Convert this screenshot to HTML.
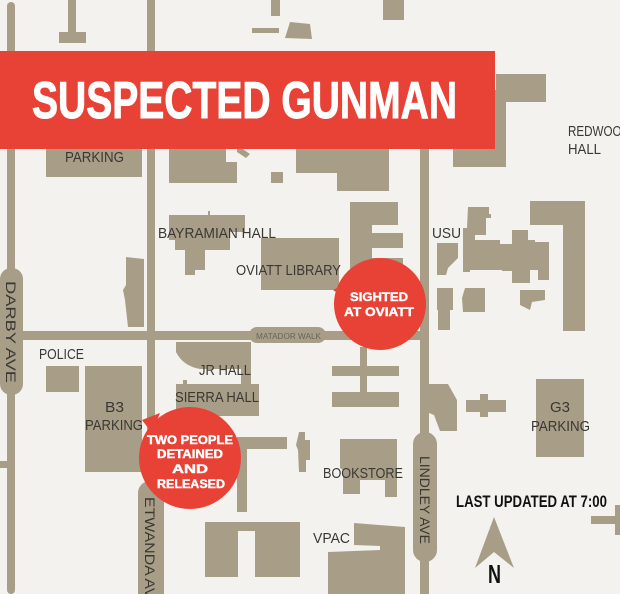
<!DOCTYPE html>
<html><head><meta charset="utf-8"><style>
html,body{margin:0;padding:0;background:#f3f2ee;}
svg{display:block}
text{font-family:"Liberation Sans Narrow","Liberation Sans",sans-serif;}
</style></head><body>
<svg width="620" height="594" viewBox="0 0 620 594" xmlns="http://www.w3.org/2000/svg">
<rect width="620" height="594" fill="#f3f2ee"/>
<g fill="#a89e88">
<rect x="7" y="2" width="8" height="592" rx="4"/>
<rect x="0" y="268" width="23" height="127" rx="11"/>
<rect x="0" y="461" width="8" height="7"/>
<rect x="147" y="0" width="8" height="594"/>
<rect x="138" y="481" width="26" height="130" rx="12"/>
<rect x="420" y="140" width="9" height="454"/>
<rect x="413" y="432" width="24" height="130" rx="12"/>
<rect x="15" y="331" width="406" height="9"/>
<rect x="249" y="327" width="77" height="16" rx="8"/>
<rect x="68" y="0" width="8" height="34"/>
<rect x="59" y="32" width="27" height="11"/>
<rect x="271" y="0" width="9" height="16"/>
<rect x="252" y="28" width="27" height="5"/>
<polygon points="290,22 310,24 312,39 285,38"/>
<rect x="383" y="0" width="21" height="20"/>
<rect x="46" y="140" width="96" height="37"/>
<polygon points="169,140 226,140 226,162 237,162 237,183 169,183"/>
<polygon points="237,145 250,154 246,158 237,152"/>
<rect x="296" y="140" width="93" height="33"/>
<rect x="337" y="140" width="52" height="51"/>
<rect x="271" y="172" width="12" height="11"/>
<rect x="453" y="90" width="53" height="77"/>
<rect x="496" y="74" width="50" height="28"/>
<polygon points="169,215 245,215 245,232 230,232 230,250 205,250 205,270 195,270 195,275 185,275 185,250 175,250 175,240 169,240"/>
<rect x="208" y="211" width="2" height="6"/>
<rect x="261" y="238" width="78" height="52"/>
<rect x="350" y="202" width="48" height="23"/>
<rect x="350" y="202" width="22" height="80"/>
<rect x="372" y="233" width="31" height="15"/>
<rect x="372" y="258" width="31" height="10"/>
<polygon points="126,257 144,259 144,327 128,327 125,300 123,290 126,285"/>
<polygon points="437,243 458,243 458,258 448,268 446,275 437,275"/>
<polygon points="468,207 489,207 489,214 491,214 491,218 486,218 486,235 475,235 475,244 463,244 463,228 467,228"/>
<polygon points="463,240 500,240 500,244 512,244 512,230 528,230 528,240 535,240 535,242 549,242 549,280 538,280 538,270 530,270 530,283 512,283 512,271 502,271 502,270 470,270 470,272 463,272"/>
<rect x="530" y="201" width="55" height="24"/>
<rect x="563" y="201" width="22" height="130"/>
<polygon points="437,288 453,288 453,310 437,310"/>
<polygon points="465,288 485,288 485,312 463,312 462,298"/>
<polygon points="520,290 545,290 545,300 532,302 530,310 520,305"/>
<polygon points="438,300 450,300 450,330 438,330"/>
<rect x="46" y="366" width="33" height="26"/>
<rect x="85" y="366" width="57" height="106"/>
<path d="M176,342 L251,342 L251,394 L241,394 L241,369 L200,369 Q183,366 176,352 Z"/>
<rect x="176" y="384" width="83" height="32"/>
<rect x="183" y="380" width="4" height="6"/>
<rect x="332" y="366" width="67" height="10"/>
<rect x="332" y="392" width="67" height="15"/>
<rect x="360" y="347" width="7" height="47"/>
<polygon points="429,384 448,384 457,400 457,431 440,431 434,415 429,413"/>
<polygon points="466,400 480,400 480,394 488,394 488,400 506,400 506,412 488,412 488,417 480,417 480,412 466,412"/>
<rect x="536" y="379" width="48" height="78"/>
<rect x="237" y="437" width="50" height="12"/>
<rect x="237" y="437" width="10" height="75"/>
<polygon points="299,432 305,432 305,440 310,440 310,460 306,460 306,472 299,472 298,450 296,445"/>
<polygon points="340,439 397,439 397,497 385,497 385,480 360,480 360,494 343,494 343,470 340,468"/>
<rect x="205" y="522" width="95" height="55"/>
<polygon points="354,523 405,527 405,594 328,594 328,552 380,550 380,546 354,545"/>
<rect x="591" y="516" width="29" height="8"/>
<rect x="615" y="505" width="5" height="30"/>
<polygon points="494,517 475,568 494,552 514,568"/>
</g>
<rect x="238" y="531" width="17" height="46" fill="#f3f2ee"/>
<rect x="0" y="51" width="495" height="98" fill="#e84236"/>
<text x="32" y="118" font-size="52" font-weight="bold" fill="#fff" stroke="#fff" stroke-width="1" textLength="425" lengthAdjust="spacingAndGlyphs">SUSPECTED GUNMAN</text>
<g fill="#3a3833" font-size="15">
<text x="65" y="162" textLength="59" lengthAdjust="spacingAndGlyphs">PARKING</text>
<text x="568" y="136" textLength="62" lengthAdjust="spacingAndGlyphs">REDWOOD</text>
<text x="568" y="154" textLength="33" lengthAdjust="spacingAndGlyphs">HALL</text>
<text x="158" y="238" textLength="118" lengthAdjust="spacingAndGlyphs">BAYRAMIAN HALL</text>
<text x="236" y="275" textLength="105" lengthAdjust="spacingAndGlyphs">OVIATT LIBRARY</text>
<text x="432" y="238" textLength="29" lengthAdjust="spacingAndGlyphs">USU</text>
<text x="39" y="359" textLength="45" lengthAdjust="spacingAndGlyphs">POLICE</text>
<text x="199" y="375" textLength="52" lengthAdjust="spacingAndGlyphs">JR HALL</text>
<text x="175" y="402" textLength="84" lengthAdjust="spacingAndGlyphs">SIERRA HALL</text>
<text x="105" y="412" textLength="19" lengthAdjust="spacingAndGlyphs">B3</text>
<text x="85" y="430" textLength="58" lengthAdjust="spacingAndGlyphs">PARKING</text>
<text x="550" y="412" textLength="20" lengthAdjust="spacingAndGlyphs">G3</text>
<text x="531" y="431" textLength="59" lengthAdjust="spacingAndGlyphs">PARKING</text>
<text x="323" y="478" textLength="80" lengthAdjust="spacingAndGlyphs">BOOKSTORE</text>
<text x="313" y="543" textLength="37" lengthAdjust="spacingAndGlyphs">VPAC</text>
</g>
<text x="256" y="339" font-size="8" fill="#6a6356" textLength="65" lengthAdjust="spacingAndGlyphs">MATADOR WALK</text>
<g fill="#3a3833" font-size="14">
<text transform="translate(6,281) rotate(90)" textLength="102" lengthAdjust="spacingAndGlyphs">DARBY AVE</text>
<text transform="translate(145,497) rotate(90)" textLength="112" lengthAdjust="spacingAndGlyphs">ETWANDA AVE</text>
<text transform="translate(420,456) rotate(90)" textLength="88" lengthAdjust="spacingAndGlyphs">LINDLEY AVE</text>
</g>
<text x="456" y="507" font-size="17" font-weight="bold" fill="#111" textLength="151" lengthAdjust="spacingAndGlyphs">LAST UPDATED AT 7:00</text>
<text x="488" y="583" font-size="26" font-weight="bold" fill="#111" textLength="13" lengthAdjust="spacingAndGlyphs">N</text>
<g fill="#e84236">
<circle cx="380" cy="304" r="46"/>
<polygon points="333,290 350,282 348,300"/>
<circle cx="190" cy="458" r="51"/>
<polygon points="142,420 160,413 152,433"/>
</g>
<g fill="#fff" font-size="12" font-weight="bold" text-anchor="middle" stroke="#fff" stroke-width="0.4">
<text x="379" y="301" textLength="58" lengthAdjust="spacingAndGlyphs">SIGHTED</text>
<text x="379" y="316" textLength="70" lengthAdjust="spacingAndGlyphs">AT OVIATT</text>
<text x="190" y="444" textLength="86" lengthAdjust="spacingAndGlyphs">TWO PEOPLE</text>
<text x="190" y="458" textLength="66" lengthAdjust="spacingAndGlyphs">DETAINED</text>
<text x="190" y="473" textLength="36" lengthAdjust="spacingAndGlyphs">AND</text>
<text x="191" y="488" textLength="68" lengthAdjust="spacingAndGlyphs">RELEASED</text>
</g>
</svg>
</body></html>
